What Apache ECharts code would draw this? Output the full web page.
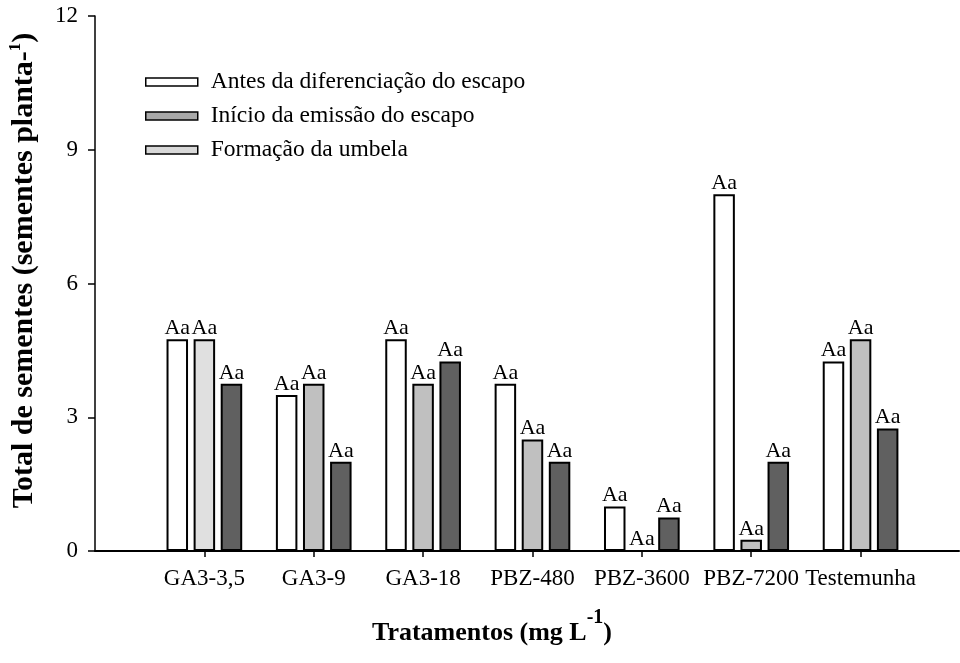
<!DOCTYPE html>
<html>
<head>
<meta charset="utf-8">
<script src="https://cdn.jsdelivr.net/npm/echarts@6/dist/echarts.min.js"></script>
<style>
  html, body { margin: 0; padding: 0; background: #fff; }
  #chart { width: 960px; height: 663px; }
</style>
</head>
<body>
<div id="chart"></div>
<script>
// Treatments (x positions 1..7 on the value axis)
const categories = ['GA3-3,5', 'GA3-9', 'GA3-18', 'PBZ-480', 'PBZ-3600', 'PBZ-7200', 'Testemunha'];
const seriesNames = ['Antes da diferenciação do escapo', 'Início da emissão do escapo', 'Formação da umbela'];

// Seeds per plant for each application stage
const antes    = [4.75, 3.5, 4.75, 3.75, 1.0, 8.0, 4.25];
const inicio   = [4.75, 3.75, 3.75, 2.5, 0.0, 0.25, 4.75];
const formacao = [3.75, 2.0, 4.25, 2.0, 0.75, 2.0, 2.75];

// Significance letters above every bar
const letters = 'Aa';

const yTicks = [0, 3, 6, 9, 12];

const FONT = '"Liberation Serif", "Times New Roman", serif';

function toPoints(values) {
  return values.map((v, i) => [i + 1, v]);
}

const barBase = {
  type: 'bar',
  barWidth: 21.5,
  barGap: '26%',
  label: {
    show: true,
    position: 'top',
    distance: 0,
    formatter: () => letters,
    fontFamily: FONT,
    fontSize: 22,
    color: '#000'
  }
};

const chart = echarts.init(document.getElementById('chart'), null, { renderer: 'canvas' });

chart.setOption({
  backgroundColor: '#fff',
  animation: false,
  textStyle: { fontFamily: FONT, color: '#000' },
  grid: { left: 95, right: 1, top: 16, bottom: 112, containLabel: false, outerBoundsMode: 'none' },
  title: {
    text: '{b|Tratamentos (mg L}{s|-1}{b|)}',
    left: 367,
    top: 603,
    textStyle: {
      rich: {
        b: { fontFamily: FONT, fontWeight: 'bold', fontSize: 26, color: '#000', verticalAlign: 'bottom', lineHeight: 38 },
        s: { fontFamily: FONT, fontWeight: 'bold', fontSize: 20, color: '#000', verticalAlign: 'top', lineHeight: 38, padding: [0, 0, 12, 0] }
      }
    }
  },
  legend: {
    orient: 'vertical',
    left: 140,
    top: 65,
    itemWidth: 52,
    itemHeight: 8,
    itemGap: 10,
    icon: 'rect',
    textStyle: { fontFamily: FONT, fontSize: 23.5, color: '#000', padding: [0, 0, 0, 8] },
    data: [
      { name: seriesNames[0], itemStyle: { color: '#ffffff', borderColor: '#000', borderWidth: 1.5 } },
      { name: seriesNames[1], itemStyle: { color: '#a8a8a8', borderColor: '#000', borderWidth: 1.5 } },
      { name: seriesNames[2], itemStyle: { color: '#d8d8d8', borderColor: '#000', borderWidth: 1.5 } }
    ]
  },
  xAxis: {
    type: 'value',
    min: 0,
    max: 7.9,
    interval: 1,
    splitLine: { show: false },
    axisLine: { show: true, lineStyle: { color: '#000', width: 2 } },
    axisTick: {
      show: true,
      length: 6,
      inside: false,
      customValues: categories.map((c, i) => i + 1),
      lineStyle: { color: '#000', width: 1.5 }
    },
    axisLabel: {
      customValues: categories.map((c, i) => i + 1),
      formatter: v => categories[Math.round(v) - 1] || '',
      margin: 16,
      fontFamily: FONT,
      fontSize: 23,
      color: '#000'
    }
  },
  yAxis: {
    type: 'value',
    min: yTicks[0],
    max: yTicks[yTicks.length - 1],
    interval: 3,
    splitLine: { show: false },
    axisLine: { show: true, lineStyle: { color: '#000', width: 1.5 } },
    axisTick: { show: true, length: 7, inside: false, lineStyle: { color: '#000', width: 1.5 } },
    axisLabel: { margin: 17, fontFamily: FONT, fontSize: 23, color: '#000' },
    name: '{b|Total de sementes (sementes planta-}{s|1}{b|)}',
    nameLocation: 'middle',
    nameRotate: 90,
    nameGap: 56,
    nameTextStyle: {
      padding: [0, 0, 0, 26],
      rich: {
        b: { fontFamily: FONT, fontWeight: 'bold', fontSize: 30, color: '#000', verticalAlign: 'bottom', lineHeight: 32 },
        s: { fontFamily: FONT, fontWeight: 'bold', fontSize: 17, color: '#000', verticalAlign: 'top', lineHeight: 32, padding: [0, 0, 8, 0] }
      }
    }
  },
  series: [
    Object.assign({}, barBase, {
      name: seriesNames[0],
      data: toPoints(antes),
      itemStyle: { color: '#ffffff', borderColor: '#000', borderWidth: 2 }
    }),
    Object.assign({}, barBase, {
      name: seriesNames[1],
      data: toPoints(inicio).map((p, i) => i === 0
        ? { value: p, itemStyle: { color: '#e0e0e0' } }
        : { value: p }),
      itemStyle: { color: '#c0c0c0', borderColor: '#000', borderWidth: 2 }
    }),
    Object.assign({}, barBase, {
      name: seriesNames[2],
      data: toPoints(formacao),
      itemStyle: { color: '#606060', borderColor: '#000', borderWidth: 2 }
    })
  ]
});
</script>
</body>
</html>
